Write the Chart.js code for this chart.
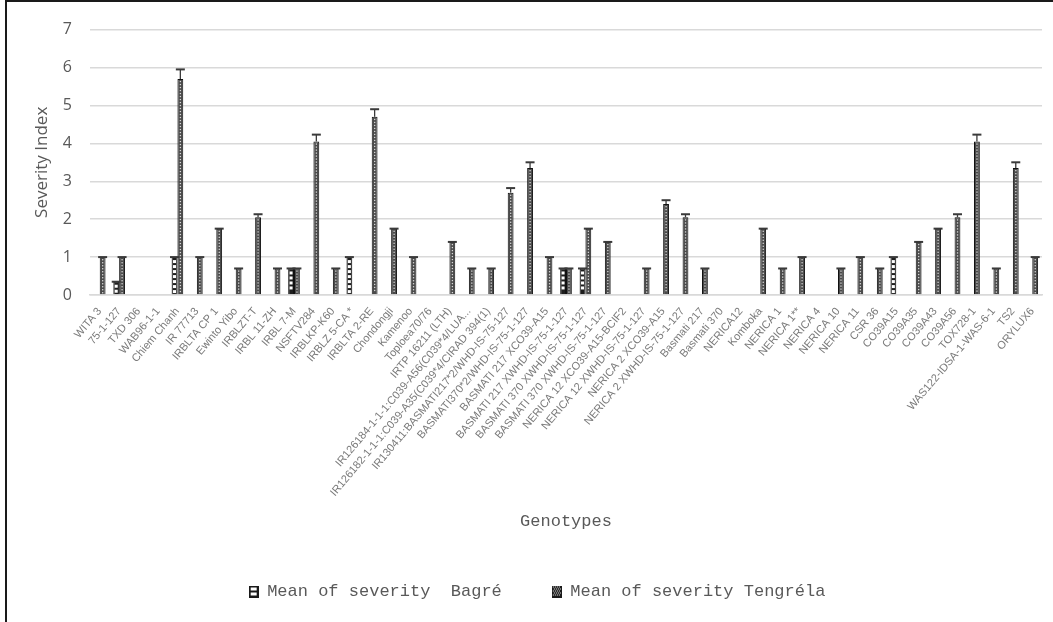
<!DOCTYPE html>
<html>
<head>
<meta charset="utf-8">
<script src="https://cdn.jsdelivr.net/npm/chart.js@4.4.1/dist/chart.umd.min.js"></script>
<style>
  body { margin: 0; background: #fff; }
  #frame { position: absolute; left: 5px; top: 0; width: 1048px; height: 622px;
           border-left: 2px solid #1a1a1a; border-top: 2px solid #1a1a1a; box-sizing: border-box; }
  #wrap { position: absolute; left: 0; top: 0; width: 1046px; height: 620px; }
</style>
</head>
<body>
<div id="frame"><div id="wrap"><canvas id="severity"></canvas></div></div>
<script>
const genotypes = [
  'WITA 3', '75-1-127', 'TXD 306', 'WAB96-1-1', 'Chiem Chanh', 'IR 77713', 'IRBLTA CP 1',
  'Ewinto Yibo', 'IRBLZT-T', 'IRBL 11-ZH', 'IRBL 7-M', 'NSFTV284', 'IRBLKP-K60', 'IRBLZ 5-CA *',
  'IRBLTA 2-RE', 'Chondongji', 'Kamenoo', 'Toploea70/76', 'IRTP 16211 (LTH)',
  'IR126184-1-1-1:C039-A56(C039*4/LUA...',
  'IR126182-1-1-1:C039-A35(C039*4/CIRAD 394(1)',
  'IR130411:BASMATI217*2/WHD-IS-75-127',
  'BASMATI370*2/WHD-IS-75-1-127',
  'BASMATI 217 XCO39-A15', 'BASMATI 217 XWHD-IS-75-1-127', 'BASMATI 370 XWHD-IS-75-1-127',
  'BASMATI 370 XWHD-IS-75-1-127', 'NERICA 12 XCO39-A15-BCIF2', 'NERICA 12 XWHD-IS-75-1-127',
  'NERICA 2 XCO39-A15', 'NERICA 2 XWHD-IS-75-1-127', 'Basmati 217', 'Basmati 370', 'NERICA12',
  'Komboka', 'NERICA 1', 'NERICA 1**', 'NERICA 4', 'NERICA 10', 'NERICA 11', 'CSR 36',
  'CO39A15', 'CO39A35', 'CO39A43', 'CO39A56', 'TOX728-1', 'WAS122-IDSA-1-WAS-6-1', 'TS2', 'ORYLUX6'
];

// Mean of severity, Bagré
const bagre = [
  null, 0.35, null, null, 1, null, null, null, null, null, 0.7, null, null, 1,
  null, null, null, null, null, null, null, null, null, null, 0.7, 0.7, null, null, null,
  null, null, null, null, null, null, null, null, null, null, null, null, 1, null,
  null, null, null, null, null, null
];
// Mean of severity, Tengréla
const tengrela = [
  1, 1, null, null, 5.7, 1, 1.75, 0.7, 2.05, 0.7, 0.7, 4.05, 0.7, null,
  4.7, 1.75, 1, null, 1.4, 0.7, 0.7, 2.7, 3.35, 1, 0.7, 1.75, 1.4, null, 0.7,
  2.4, 2.05, 0.7, null, null, 1.75, 0.7, 1, null, 0.7, 1, 0.7, null, 1.4,
  1.75, 2.05, 4.05, 0.7, 3.35, 1
];
// upper error (standard error) for each bar
const bagreErr = new Array(genotypes.length).fill(0);
const tengrelaErr = [
  0, 0, 0, 0, 0.25, 0, 0, 0, 0.08, 0, 0, 0.18, 0, 0,
  0.2, 0, 0, 0, 0, 0, 0, 0.12, 0.15, 0, 0, 0, 0, 0, 0,
  0.1, 0.08, 0, 0, 0, 0, 0, 0, 0, 0, 0, 0, 0, 0,
  0, 0.08, 0.18, 0, 0.15, 0
];
const yMin = 0, yMax = 7, yStep = 1;

function makeIcon(kind) {
  const c = document.createElement('canvas');
  c.width = 10; c.height = 12;
  const g = c.getContext('2d');
  g.fillStyle = '#1a1a1a';
  g.fillRect(0, 0, 10, 12);
  g.fillStyle = '#fff';
  if (kind === 'b') {
    g.fillRect(2, 2, 6, 3);
    g.fillRect(2, 7, 6, 3);
  } else {
    for (let y = 1; y < 11; y += 2) {
      for (let x = 1 + (y % 4 === 1 ? 0 : 1); x < 9; x += 2) g.fillRect(x, y, 1, 1);
    }
  }
  return c;
}

const barDecor = {
  id: 'barDecor',
  afterDatasetsDraw(chart) {
    const ctx = chart.ctx;
    const errs = [bagreErr, tengrelaErr];
    const yScale = chart.scales.y;
    chart.data.datasets.forEach((ds, di) => {
      const meta = chart.getDatasetMeta(di);
      meta.data.forEach((bar, i) => {
        const v = ds.data[i];
        if (v === null || v === undefined) return;
        const {x, y, base} = bar.getProps(['x', 'y', 'base'], true);
        ctx.save();
        // inner texture
        if (di === 0) {
          ctx.fillStyle = '#ffffff';
          for (let yy = y + 3; yy < base - 3; yy += 5) ctx.fillRect(x - 1.5, yy, 3, 3);
        } else {
          ctx.fillStyle = '#d8d8d8';
          for (let yy = y + 2; yy < base - 2; yy += 3) ctx.fillRect(x - 0.6, yy, 1.3, 1.3);
        }
        // error bar + cap
        const top = yScale.getPixelForValue(v + errs[di][i]);
        ctx.strokeStyle = '#3a3a3a';
        ctx.lineWidth = 1.3;
        ctx.beginPath();
        ctx.moveTo(x, y);
        ctx.lineTo(x, top);
        ctx.stroke();
        ctx.lineWidth = 2;
        ctx.beginPath();
        ctx.moveTo(x - 4.5, top);
        ctx.lineTo(x + 4.5, top);
        ctx.stroke();
        ctx.restore();
      });
    });
  }
};

new Chart(document.getElementById('severity'), {
  type: 'bar',
  data: {
    labels: genotypes,
    datasets: [
      {
        label: 'Mean of severity  Bagré',
        data: bagre,
        backgroundColor: '#1e1e1e',
        borderColor: '#111',
        borderWidth: 1,
        pointStyle: makeIcon('b')
      },
      {
        label: 'Mean of severity Tengréla',
        data: tengrela,
        backgroundColor: '#4a4a4a',
        borderColor: '#111',
        borderWidth: 1,
        pointStyle: makeIcon('t')
      }
    ]
  },
  options: {
    responsive: true,
    maintainAspectRatio: false,
    animation: false,
    datasets: {
      bar: { categoryPercentage: 0.6, barPercentage: 1 }
    },
    layout: { padding: { left: 25, right: 11, top: 26, bottom: 12 } },
    scales: {
      x: {
        grid: { display: false },
        border: { display: true, color: '#d9d9d9', width: 1.5 },
        afterFit: (scale) => { scale.height = 238; },
        ticks: {
          autoSkip: false,
          maxRotation: 50,
          minRotation: 50,
          padding: 2,
          color: '#7a7a7a',
          font: { family: 'Liberation Sans', size: 11 }
        },
        title: {
          display: true,
          text: 'Genotypes',
          color: '#595959',
          padding: { top: 0, bottom: 1 },
          font: { family: 'Liberation Mono', size: 17 }
        }
      },
      y: {
        min: yMin,
        max: yMax,
        afterFit: (scale) => { scale.width = 58; },
        grid: { color: '#d9d9d9', lineWidth: 1.5, drawTicks: false },
        border: { display: false },
        ticks: {
          stepSize: yStep,
          padding: 18,
          color: '#595959',
          font: { family: 'Open Sans', size: 16 }
        },
        title: {
          display: true,
          text: 'Severity Index',
          color: '#595959',
          padding: { top: 0, bottom: 0 },
          font: { family: 'Open Sans', size: 17 }
        }
      }
    },
    plugins: {
      legend: {
        position: 'bottom',
        labels: {
          usePointStyle: true,
          boxWidth: 10,
          boxHeight: 12,
          padding: 50,
          color: '#595959',
          font: { family: 'Liberation Mono', size: 17 }
        }
      },
      tooltip: { enabled: false }
    }
  },
  plugins: [barDecor]
});
</script>
</body>
</html>
